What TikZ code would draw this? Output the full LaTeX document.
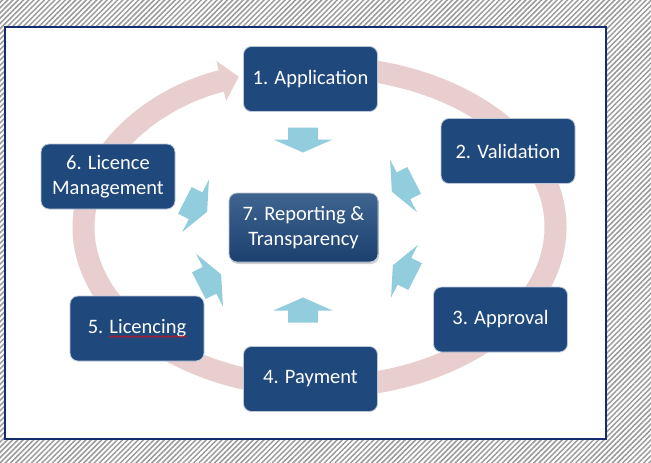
\documentclass[tikz,border=0pt]{standalone}
\usepackage{fontspec}
\setmainfont{Carlito}
\usetikzlibrary{arrows.meta,patterns.meta,shadows,calc,decorations.pathmorphing}
\definecolor{boxblue}{RGB}{31,73,125}
\definecolor{ringpink}{RGB}{232,206,207}
\definecolor{arrowblue}{RGB}{146,205,221}
\definecolor{framenavy}{RGB}{22,44,110}
\tikzset{
    stage/.style={draw=white!70!boxblue, line width=0.8pt, fill=boxblue, rounded corners=8pt,
        minimum width=134pt, minimum height=65pt, text=white, align=center,
        font=\fontsize{20.5}{24.5}\selectfont},
    hub/.style={stage, minimum width=149pt, minimum height=69pt,
        top color=boxblue!85!white, middle color=boxblue, bottom color=boxblue!88!black,
        drop shadow={shadow xshift=1pt, shadow yshift=-2pt, opacity=0.35}},
    feed/.pic={\fill[arrowblue] (-12.5,-15) -- (-0.5,-15) -- (-0.5,-29.5) -- (12.5,0)
        -- (-0.5,29.5) -- (-0.5,15) -- (-12.5,15) -- cycle;},
    spellwave/.style={red, line width=0.4pt, decorate,
        decoration={snake, amplitude=0.9pt, segment length=2.5pt}}
}
\begin{document}
\begin{tikzpicture}[x=1pt,y=-1pt]
    \useasboundingbox (0,0) rectangle (651,463);
    \fill[pattern={Lines[angle=45,distance=3.7pt,line width=1.5pt]}, pattern color=gray!80] (0,0) rectangle (651,463);
    \draw[framenavy, line width=2pt, fill=white] (5,27) rectangle (606,439);

    \draw[ringpink, line width=22pt, -{Triangle[width=40pt,length=18pt]}]
        ($(319.5,227)+(275:236 and 160)$) arc[start angle=275, end angle=610, x radius=236, y radius=160];

    \pic[rotate=-90] at (303,140) {feed};
    \pic[rotate=90] at (303,310) {feed};
    \pic[rotate=207] at (403,186) {feed};
    \pic[rotate=153] at (404,271) {feed};
    \pic[rotate=-27] at (196,206) {feed};
    \pic[rotate=27] at (210,280) {feed};

    \node[stage] (app) at (310.5,79) {1. Application};
    \node[stage] (val) at (508,151) {2. Validation};
    \node[stage] (appr) at (500.5,319.5) {3. Approval};
    \node[stage] (pay) at (310.5,379) {4. Payment};
    \node[stage] (lic) at (137,328.5) {5. Licencing};
    \node[stage] (mgmt) at (108,176.5) {6. Licence\\Management};
    \node[hub] (rep) at (303.5,227.5) {7. Reporting \&\\Transparency};

    \draw[spellwave] ($(lic.center)+(-28,8)$) -- ($(lic.center)+(50,8)$);
\end{tikzpicture}
\end{document}
